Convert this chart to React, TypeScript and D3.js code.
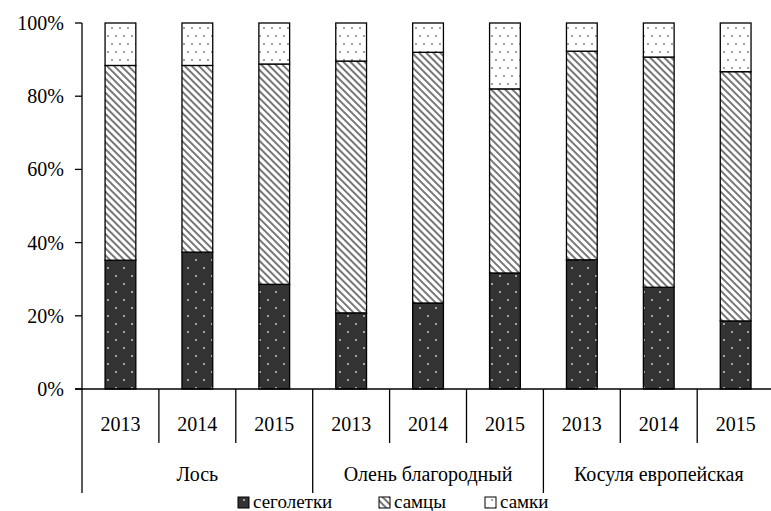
import React from 'react';
import * as d3 from 'd3';

const species = ['Лось', 'Олень благородный', 'Косуля европейская'];
const years = ['2013', '2014', '2015'];
// shares in %, 9 bars: species x years
const yearlings = [35.2, 37.4, 28.6, 20.8, 23.5, 31.7, 35.3, 27.8, 18.6];
const males = [53.2, 51.0, 60.2, 68.8, 68.5, 50.3, 57.0, 62.9, 68.1];
const females = [11.6, 11.6, 11.2, 10.4, 8.0, 18.0, 7.7, 9.3, 13.3];
const seriesNames = ['сеголетки', 'самцы', 'самки'];
const yTicks = [0, 20, 40, 60, 80, 100];

const W = 771;
const H = 511;
const left = 82;
const top = 23;
const bottom = 389;
const band = 76.9;
const txt = { fontFamily: '"Times New Roman"' };

const App = () => {
  const rows = yearlings.map((v, i) => ({
    key: String(i),
    yearlings: v,
    males: males[i],
    females: females[i],
  }));
  const stack = d3.stack<any>().keys(['yearlings', 'males', 'females']);
  const layers = stack(rows);

  const x = d3
    .scaleBand()
    .domain(rows.map(r => r.key))
    .range([left, left + band * rows.length])
    .paddingInner(0.6)
    .paddingOuter(0.3);
  const y = d3.scaleLinear().domain([0, 100]).range([bottom, top]);
  const fills = ['url(#darkDots)', 'url(#hatch)', 'url(#lightDots)'];

  return (
    <svg width={W} height={H} style={{ position: 'absolute', left: 0, top: 0, background: '#fff' }}>
      <defs>
        <pattern id="darkDots" width="16" height="16" patternUnits="userSpaceOnUse">
          <rect width="16" height="16" fill="#333" />
          <circle cx="4" cy="4" r="1" fill="#ccc" />
          <circle cx="12" cy="12" r="1" fill="#ccc" />
        </pattern>
        <pattern id="hatch" width="5" height="5" patternUnits="userSpaceOnUse" patternTransform="rotate(45)">
          <rect width="5" height="5" fill="#fff" />
          <rect x="0" y="0" width="5" height="2" fill="#777" />
        </pattern>
        <pattern id="lightDots" width="16" height="16" patternUnits="userSpaceOnUse">
          <rect width="16" height="16" fill="#fff" />
          <circle cx="4" cy="4" r="0.9" fill="#777" />
          <circle cx="12" cy="4" r="0.9" fill="#777" />
          <circle cx="8" cy="12" r="0.9" fill="#777" />
          <circle cx="0" cy="12" r="0.9" fill="#777" />
          <circle cx="16" cy="12" r="0.9" fill="#777" />
        </pattern>
      </defs>

      {layers.map((layer, li) => (
        <g key={li}>
          {layer.map((d, i) => (
            <rect
              key={i}
              x={x(String(i))}
              y={y(d[1])}
              width={x.bandwidth()}
              height={y(d[0]) - y(d[1])}
              fill={fills[li]}
              stroke="#000"
              strokeWidth={1.3}
            />
          ))}
        </g>
      ))}

      {/* y axis */}
      <line x1={left} x2={left} y1={top} y2={493} stroke="#000" strokeWidth={1.3} />
      {yTicks.map(t => (
        <g key={t}>
          <line x1={left - 7} x2={left} y1={y(t)} y2={y(t)} stroke="#000" strokeWidth={1.3} />
          <text x={64} y={y(t) + 7} textAnchor="end" fontSize={20} style={txt}>
            {t}%
          </text>
        </g>
      ))}
      <line x1={left - 7} x2={W} y1={bottom} y2={bottom} stroke="#000" strokeWidth={1.3} />

      {/* category axis */}
      {rows.map((r, i) => {
        const x0 = left + band * i;
        const isGroupStart = i % 3 === 0;
        return (
          <g key={r.key}>
            {i > 0 && (
              <line
                x1={x0}
                x2={x0}
                y1={bottom}
                y2={isGroupStart ? 493 : 443}
                stroke="#000"
                strokeWidth={1.3}
              />
            )}
            <text x={x0 + band / 2} y={431} textAnchor="middle" fontSize={20} style={txt}>
              {years[i % 3]}
            </text>
          </g>
        );
      })}
      {species.map((s, i) => (
        <text key={s} x={left + band * (i * 3 + 1.5)} y={481} textAnchor="middle" fontSize={20} style={txt}>
          {s}
        </text>
      ))}

      {/* legend */}
      {seriesNames.map((n, i) => {
        const lx = [238, 379, 485][i];
        return (
          <g key={n}>
            <rect x={lx} y={497} width={11} height={11} fill={fills[i]} stroke="#000" strokeWidth={1} />
            <text x={lx + 15} y={508} fontSize={19} style={txt}>
              {n}
            </text>
          </g>
        );
      })}
    </svg>
  );
};

export default App;
